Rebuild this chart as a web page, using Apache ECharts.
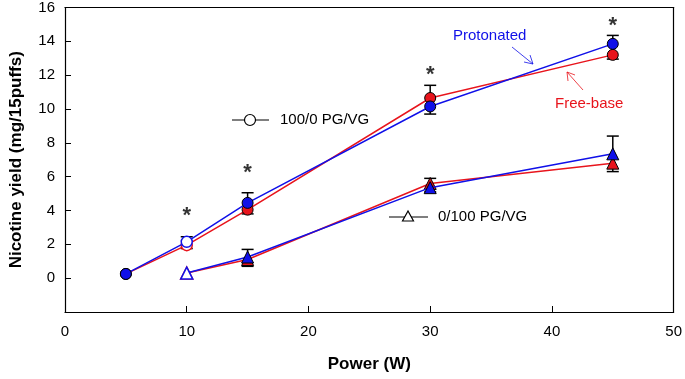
<!DOCTYPE html>
<html><head><meta charset="utf-8">
<script src="https://cdn.jsdelivr.net/npm/echarts@6/dist/echarts.min.js"></script>
<style>html,body{margin:0;padding:0;background:#fff}#c{width:685px;height:379px}</style>
</head><body><div id="c"></div>
<script>
// ---- data ----
const powerCircle = [5, 10, 15, 30, 45];
const protonated100 = [0.25, 2.15, 4.45, 10.15, 13.85];
const freebase100   = [0.25, 1.95, 4.05, 10.65, 13.2];
const powerTri = [10, 15, 30, 45];
const protonated0 = [0.3, 1.25, 5.35, 7.35];
const freebase0   = [0.3, 1.1, 5.6, 6.8];
// error bars: [power, low, high]
const errCircle = [[10, 1.75, 2.45], [15, 3.8, 5.05], [30, 9.7, 11.4], [45, 12.95, 14.35]];
const errTri = [[15, 0.7, 1.7], [30, 5.1, 5.9], [45, 6.3, 8.4]];
const asteriskPower = [10, 15, 30, 45];
const asteriskY = [3.9, 6.45, 12.25, 15.15];
const xTicks = [0, 10, 20, 30, 40, 50];
const yTicks = [0, 2, 4, 6, 8, 10, 12, 14, 16];
const openMarkerPower = 10;

const font = 'Arial, "Liberation Sans", sans-serif';
const chart = echarts.init(document.getElementById('c'), null, {renderer: 'canvas'});

function pts(xs, ys, color) {
  return xs.map((x, i) => ({
    value: [x, ys[i]],
    itemStyle: x === openMarkerPower ? {color: '#fff', borderColor: color, borderWidth: 1.5}
                                     : {color: color, borderColor: '#000', borderWidth: 1}
  }));
}
function lineSeries(xs, ys, color, symbol, size, z) {
  return {type: 'line', data: pts(xs, ys, color), symbol: symbol, symbolSize: size,
    lineStyle: {color: color, width: 1.5}, z: z, animation: false, showSymbol: true};
}
function errSeries(data) {
  return {type: 'custom', data: data, z: 1, animation: false,
    encode: {x: 0, y: [1, 2]},
    renderItem: function (params, api) {
      const x = api.value(0);
      const lo = api.coord([x, api.value(1)]);
      const hi = api.coord([x, api.value(2)]);
      const w = 6;
      const st = {stroke: '#000', lineWidth: 1.5};
      return {type: 'group', children: [
        {type: 'line', shape: {x1: lo[0], y1: lo[1], x2: hi[0], y2: hi[1]}, style: st},
        {type: 'line', shape: {x1: lo[0] - w, y1: lo[1], x2: lo[0] + w, y2: lo[1]}, style: st},
        {type: 'line', shape: {x1: hi[0] - w, y1: hi[1], x2: hi[0] + w, y2: hi[1]}, style: st}
      ]};
    }};
}
const frameAxis = {show: true, axisLine: {show: true, onZero: false, lineStyle: {color: '#000', width: 1.2}},
  axisTick: {show: false}, axisLabel: {show: false}, splitLine: {show: false}};

const option = {
  backgroundColor: '#fff',
  animation: false,
  grid: {left: 64, right: 10, top: 7, bottom: 67, show: false},
  xAxis: [{
    type: 'value', min: 0, max: 50, interval: 10,
    name: 'Power (W)', nameLocation: 'middle', nameGap: 44,
    nameTextStyle: {fontFamily: font, fontSize: 17, fontWeight: 'bold', color: '#000'},
    axisLine: {show: true, onZero: false, lineStyle: {color: '#000', width: 1.2}},
    axisTick: {show: true, inside: true, length: 6, lineStyle: {color: '#000'}},
    axisLabel: {fontFamily: font, fontSize: 15, color: '#000', margin: 12,
      formatter: v => xTicks.includes(v) ? String(v) : ''},
    splitLine: {show: false}
  }, Object.assign({type: 'value', min: 0, max: 50, position: 'top'}, frameAxis)],
  yAxis: [{
    type: 'value', min: -2, max: 16, interval: 2,
    name: 'Nicotine yield (mg/15puffs)', nameLocation: 'middle', nameGap: 40,
    nameTextStyle: {fontFamily: font, fontSize: 17, fontWeight: 'bold', color: '#000'},
    axisLine: {show: true, onZero: false, lineStyle: {color: '#000', width: 1.2}},
    axisTick: {show: true, inside: true, length: 6, lineStyle: {color: '#000'},
      interval: (i, v) => yTicks.includes(Number(v))},
    axisLabel: {fontFamily: font, fontSize: 15, color: '#000', margin: 10,
      formatter: v => yTicks.includes(v) ? String(v) : ''},
    splitLine: {show: false}
  }, Object.assign({type: 'value', min: -2, max: 16, position: 'right'}, frameAxis)],
  series: [
    errSeries(errCircle),
    errSeries(errTri),
    lineSeries(powerCircle, freebase100, '#e8141c', 'circle', 11, 3),
    lineSeries(powerCircle, protonated100, '#1010e8', 'circle', 11, 4),
    lineSeries(powerTri, freebase0, '#e8141c', 'triangle', 12, 3),
    lineSeries(powerTri, protonated0, '#1010e8', 'triangle', 12, 4),
    {type: 'scatter', data: asteriskPower.map((x, i) => [x, asteriskY[i]]), symbolSize: 0,
      z: 5, animation: false,
      label: {show: true, position: 'inside', formatter: '*', fontFamily: font,
        fontSize: 22, fontWeight: 'bold', color: '#000', offset: [0, 4]}}
  ],
  graphic: [
    // key 100/0
    {type: 'line', shape: {x1: 232, y1: 120, x2: 269, y2: 120}, style: {stroke: '#000', lineWidth: 1.2}},
    {type: 'circle', shape: {cx: 250, cy: 120, r: 5.5}, style: {fill: '#fff', stroke: '#000', lineWidth: 1.2}},
    {type: 'text', x: 280, y: 120, style: {text: '100/0 PG/VG', font: '15px ' + font, fill: '#000', textVerticalAlign: 'middle'}},
    // key 0/100
    {type: 'line', shape: {x1: 389, y1: 217, x2: 428, y2: 217}, style: {stroke: '#000', lineWidth: 1.2}},
    {type: 'polygon', shape: {points: [[408, 211], [402.5, 221], [413.5, 221]]}, style: {fill: '#fff', stroke: '#000', lineWidth: 1.2}},
    {type: 'text', x: 438, y: 217, style: {text: '0/100 PG/VG', font: '15px ' + font, fill: '#000', textVerticalAlign: 'middle'}},
    // Protonated
    {type: 'text', x: 453, y: 36, style: {text: 'Protonated', font: '15px ' + font, fill: '#1010e8', textVerticalAlign: 'middle'}},
    {type: 'line', shape: {x1: 512, y1: 47, x2: 533, y2: 64}, style: {stroke: '#1010e8', lineWidth: 0.8}},
    {type: 'polyline', shape: {points: [[524, 62], [533, 64], [530, 55]]}, style: {stroke: '#1010e8', lineWidth: 0.8, fill: null}},
    // Free-base
    {type: 'text', x: 555, y: 104, style: {text: 'Free-base', font: '15px ' + font, fill: '#e8141c', textVerticalAlign: 'middle'}},
    {type: 'line', shape: {x1: 583, y1: 90, x2: 567, y2: 72}, style: {stroke: '#e8141c', lineWidth: 0.8}},
    {type: 'polyline', shape: {points: [[568, 81], [567, 72], [575, 75]]}, style: {stroke: '#e8141c', lineWidth: 0.8, fill: null}}
  ]
};
chart.setOption(option);
</script>
</body></html>
